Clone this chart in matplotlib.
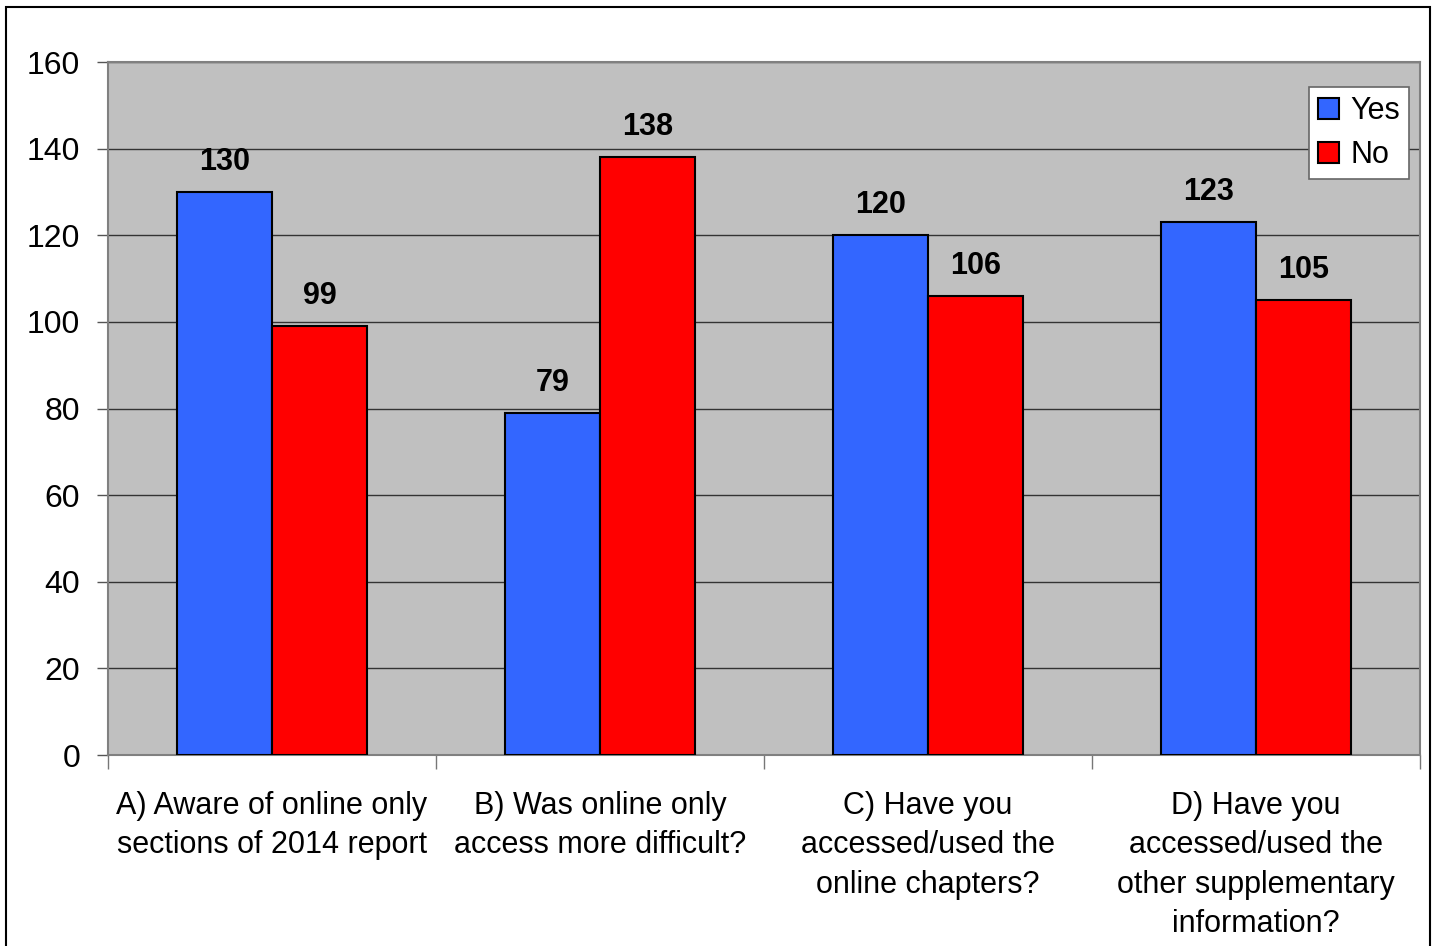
import matplotlib
matplotlib.use("Agg")
import matplotlib.pyplot as plt
import numpy as np
from matplotlib.patches import Rectangle

# Data
categories = ["A) Aware of online only\nsections of 2014 report",
              "B) Was online only\naccess more difficult?",
              "C) Have you\naccessed/used the\nonline chapters?",
              "D) Have you\naccessed/used the\nother supplementary\ninformation?"]
yes_vals = [130, 79, 120, 123]
no_vals = [99, 138, 106, 105]
series_names = ["Yes", "No"]
y_ticks = [0, 20, 40, 60, 80, 100, 120, 140, 160]

plt.rcParams['font.family'] = ['Liberation Sans', 'DejaVu Sans']

fig = plt.figure(figsize=(14.34, 9.46), dpi=100)
ax = fig.add_axes([108/1434, 1-755/946, 1312/1434, 693/946])
ax.set_facecolor('#C0C0C0')

# outer chart frame
fig.patches.append(Rectangle((6/1434, -0.05), 1424/1434, 1.05 - 7/946, transform=fig.transFigure,
                             fill=False, edgecolor='black', linewidth=1.5))

x = np.arange(len(categories))
w = 0.29
b1 = ax.bar(x - w/2, yes_vals, w, color='#3366FF', edgecolor='black', linewidth=1.5, label=series_names[0], zorder=3)
b2 = ax.bar(x + w/2, no_vals, w, color='#FF0000', edgecolor='black', linewidth=1.5, label=series_names[1], zorder=3)

for bars, vals in ((b1, yes_vals), (b2, no_vals)):
    for r, v in zip(bars, vals):
        ax.annotate(str(v), (r.get_x() + r.get_width()/2, v), xytext=(0, 11), textcoords='offset points',
                    ha='center', va='bottom', fontsize=22, fontweight='bold')

ax.set_xlim(-0.5, len(categories) - 0.5)
ax.set_ylim(0, 160)
ax.set_yticks(y_ticks)
ax.yaxis.grid(True, color='#333333', linewidth=1, zorder=1)
ax.set_axisbelow(True)
ax.tick_params(axis='y', labelsize=23, length=8, width=1, color='#555555', pad=12)

ax.set_xticks(x)
ax.set_xticklabels(categories, fontsize=22, linespacing=1.4)
ax.set_xticks(np.arange(len(categories) + 1) - 0.5, minor=True)
ax.tick_params(axis='x', which='major', length=0, pad=26)
ax.tick_params(axis='x', which='minor', length=10, width=1, color='#777777')

for s in ax.spines.values():
    s.set_color('#808080')
    s.set_linewidth(1.5)

leg = ax.legend(loc='upper right', bbox_to_anchor=(0.9916, 0.9639), borderaxespad=0, fontsize=22, frameon=True,
                fancybox=False, edgecolor='#666666', framealpha=1, handlelength=0.7, handleheight=0.7,
                handletextpad=0.35, borderpad=0.3, labelspacing=0.45)
leg.get_frame().set_linewidth(1.2)

fig.savefig("out.png", dpi=100)
